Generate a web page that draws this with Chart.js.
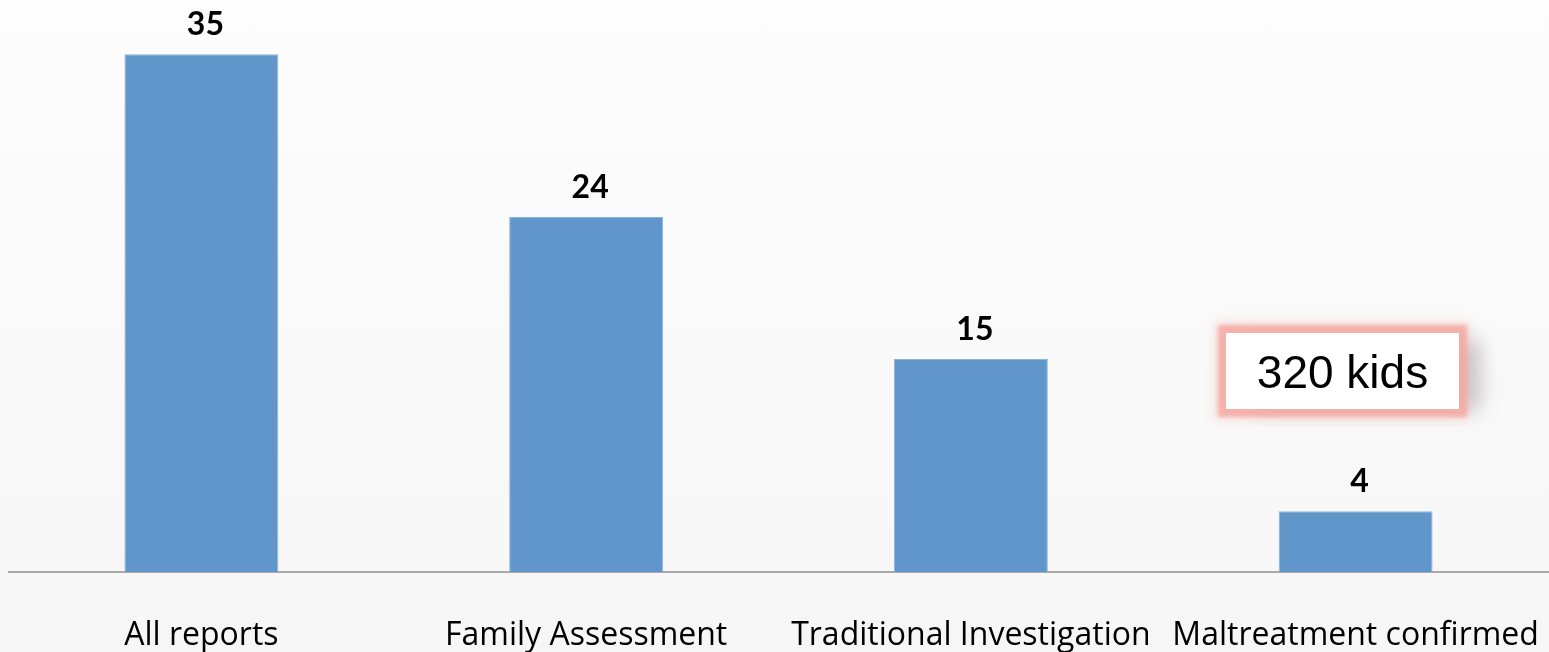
<!DOCTYPE html>
<html>
<head>
<meta charset="utf-8">
<script src="https://cdn.jsdelivr.net/npm/chart.js@4"></script>
<style>
  html, body { margin: 0; padding: 0; }
  body {
    width: 1549px; height: 652px; overflow: hidden; position: relative;
    background: linear-gradient(to bottom, #fdfdfd 0%, #fafafa 45%, #f6f6f6 100%);
  }
  #wrap { position: absolute; left: 0; top: 0; width: 1549px; height: 652px; }
  #note {
    position: absolute; left: 1226px; top: 333px; width: 233px; height: 76px;
    background: #ffffff;
    box-shadow: 0 0 4px 8px rgba(244, 168, 160, 0.85), 0 0 12px 10px rgba(244, 180, 172, 0.4), 26px 4px 18px -4px rgba(110,110,110,0.35);
    font-family: "Liberation Sans", Arial, sans-serif; font-size: 46px; color: #000;
    display: flex; align-items: center; justify-content: center; line-height: 1;
    padding-top: 2px; box-sizing: border-box;
  }
</style>
</head>
<body>
<div id="wrap"><canvas id="c" width="1549" height="652"></canvas></div>
<div id="note">320 kids</div>
<script>
const categories = ["All reports", "Family Assessment", "Traditional Investigation", "Maltreatment confirmed"];
const values = [35, 24, 14.4, 4.1];
const valueLabels = ["35", "24", "15", "4"];
const yMax = 38;

const valueLabelPlugin = {
  id: 'valueLabels',
  afterDatasetsDraw(chart) {
    const ctx = chart.ctx;
    const meta = chart.getDatasetMeta(0);
    ctx.save();
    ctx.font = 'bold 32px Lato, "Open Sans", sans-serif';
    ctx.fillStyle = '#000000';
    ctx.textAlign = 'center';
    ctx.textBaseline = 'alphabetic';
    meta.data.forEach((bar, i) => {
      ctx.fillText(valueLabels[i], bar.x + 4, bar.y - 19.5);
    });
    ctx.restore();
  }
};

new Chart(document.getElementById('c'), {
  type: 'bar',
  data: {
    labels: categories,
    datasets: [{
      data: values,
      backgroundColor: '#6096c9',
      borderColor: '#8db3da',
      borderWidth: 1,
      barPercentage: 0.4,
      categoryPercentage: 1.0
    }]
  },
  options: {
    responsive: false,
    animation: false,
    layout: { padding: { left: 9, right: 1, top: 10, bottom: 0 } },
    plugins: { legend: { display: false }, tooltip: { enabled: false } },
    scales: {
      y: { display: false, min: 0, max: yMax },
      x: {
        grid: { display: false },
        border: { display: true, color: '#a8a8a8', width: 2 },
        ticks: {
          color: '#000000',
          font: { family: '"Open Sans", Lato, sans-serif', size: 32, lineHeight: 3.25 },
          padding: 4,
          maxRotation: 0,
          autoSkip: false
        },
        afterFit(scale) { scale.height = 80; }
      }
    }
  },
  plugins: [valueLabelPlugin]
});
</script>
</body>
</html>
